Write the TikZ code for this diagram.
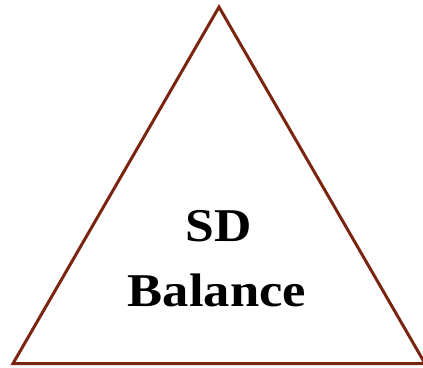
\documentclass[tikz,border=0pt]{standalone}
\usepackage{fontspec}
\setmainfont{Liberation Serif}
\definecolor{tribrown}{HTML}{7A2412}
\begin{document}
\begin{tikzpicture}[x=1pt,y=-1pt,
  tri/.style={draw=tribrown,line width=3pt,line join=miter},
  lbl/.style={font=\bfseries\fontsize{47}{65}\selectfont,align=center,inner sep=0pt}]
\useasboundingbox (0,0) rectangle (423,367);
\coordinate (top) at (219,7);
\coordinate (bl) at (13,363.5);
\coordinate (br) at (425,363.5);
\draw[tri] (top) -- (bl) -- (br) -- cycle;
\node[lbl,anchor=base] (sd) at (219,241.7) {\scalebox{1.1}[1]{SD}};
\node[lbl,anchor=base] (bal) at (217,306.7) {\scalebox{1.12}[1]{Balance}};
\end{tikzpicture}
\end{document}
